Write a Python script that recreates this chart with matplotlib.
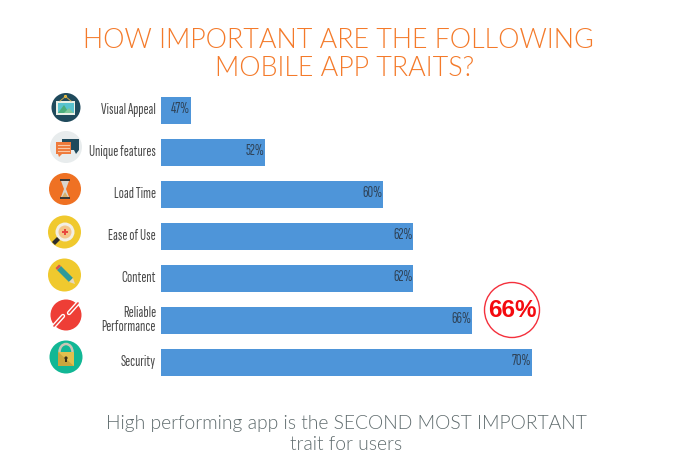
import matplotlib
matplotlib.use("Agg")
import matplotlib.pyplot as plt
from matplotlib.patches import Circle, Polygon, Rectangle, Arc
from matplotlib.transforms import ScaledTranslation

categories = ["Visual Appeal", "Unique features", "Load Time", "Ease of Use",
              "Content", "Reliable\nPerformance", "Security"]
values = [47, 52, 60, 62, 62, 66, 70]
value_labels = ["47%", "52%", "60%", "62%", "62%", "66%", "70%"]
title_line_1 = "HOW IMPORTANT ARE THE FOLLOWING"
title_line_2 = "MOBILE APP TRAITS?"
footer_lines = "High performing app is the SECOND MOST IMPORTANT\ntrait for users"
callout = "66%"

W, H = 680, 464
narrow = ["Sofia Sans Extra Condensed", "Roboto Condensed", "Roboto", "DejaVu Sans"]
fig = plt.figure(figsize=(W / 100, H / 100), dpi=100, facecolor="white")

def rect(l, t, r, b):
    return [l / W, 1 - b / H, (r - l) / W, (b - t) / H]

ax = fig.add_axes(rect(161, 90.7, 680, 384.7))
ax.barh(range(len(values)), values, height=0.643, color="#4e95d9", left=0)
ax.set_xlim(45, 45 + 519 / 14.83)
ax.set_ylim(6.512, -0.488)
ax.set_yticks(range(len(categories)), categories, family=narrow, fontsize=11,
              color="#4a4a4a", linespacing=1.0)
ax.tick_params(axis="y", length=0, pad=3.6)
up = ScaledTranslation(0, 2 / 72, fig.dpi_scale_trans)
for t in ax.get_yticklabels():
    t.set_transform(t.get_transform() + up)
ax.set_xticks([])
for s in ax.spines.values():
    s.set_visible(False)
ax.patch.set_alpha(0)
for i, (v, lab) in enumerate(zip(values, value_labels)):
    ax.annotate(lab, (v, i), xytext=(-0.5, 1.8), textcoords="offset points", ha="right",
                va="center", family=narrow, fontsize=11, color="#2f4358")

# Decorative layer in pixel coordinates: icons, titles, callout
ov = fig.add_axes([0, 0, 1, 1], zorder=3)
ov.set_xlim(0, W)
ov.set_ylim(H, 0)
ov.axis("off")
ov.patch.set_alpha(0)

ov.text(338.5, 40, title_line_1, ha="center", va="center", family="Lato", fontsize=19.4,
        color="#f47a2a", fontweight=300)
ov.text(344.5, 69, title_line_2, ha="center", va="center", family="Lato", fontsize=19.4,
        color="#f47a2a", fontweight=300)
ov.text(346, 434, footer_lines, ha="center", va="center", family="Lato", fontsize=13.85,
        color="#5f6b6d", fontweight=300, linespacing=1.3)

ov.add_patch(Circle((512, 311), 27.5, fc="white", ec="#f4303c", lw=1.0))
ov.text(512.5, 310.5, callout, ha="center", va="center", family="Liberation Sans",
        fontsize=17.5, fontweight="bold", color="#f40a0f")

def circ(x, y, r, c, **k):
    ov.add_patch(Circle((x, y), r, fc=c, ec="none", **k))

def poly(pts, c):
    ov.add_patch(Polygon(pts, closed=True, fc=c, ec="none"))

def box(x0, y0, x1, y1, c):
    ov.add_patch(Rectangle((x0, y0), x1 - x0, y1 - y0, fc=c, ec="none"))

# Visual Appeal
circ(66, 108.5, 14.5, "#1f4a5c")
box(56, 102, 75, 116, "#e9efe6")
box(57.5, 103.5, 73.5, 114, "#59c3cf")
poly([(58, 114), (64, 106), (69, 114)], "#4cae7c")
poly([(64, 114), (69, 109), (73.5, 114)], "#7fc79a")
circ(65.5, 97.5, 1.6, "#f2c53d")
ov.plot([60, 65.5, 71], [102, 97.5, 102], color="#c9a44a", lw=0.7)
# Unique features
circ(66, 148, 16, "#e8eced")
poly([(62, 140), (79, 140), (79, 151), (76, 155), (74, 151), (62, 151)], "#1f4a5c")
box(56, 143, 71, 155, "#ef7a3b")
poly([(58, 155), (62, 155), (59, 158)], "#ef7a3b")
for yy in (146, 149, 152):
    ov.plot([58, 69], [yy, yy], color="#f7c9a9", lw=0.8)
# Load Time
circ(65, 190, 16, "#ef7123")
box(60, 180, 70, 182, "#3e3a36")
box(60, 198, 70, 200, "#3e3a36")
poly([(61, 182), (69, 182), (66, 190), (69, 198), (61, 198), (64, 190)], "#d9d6cf")
poly([(62, 198), (68, 198), (65, 193)], "#d8b06a")
# Ease of Use
circ(64.5, 233, 16.5, "#f0c92e")
circ(65, 233, 9.5, "#f3efe4")
circ(65, 233, 6.5, "#f4c68a")
box(63.8, 230, 66.2, 236, "#e8483f")
box(62, 231.8, 68, 234.2, "#e8483f")
poly([(52, 243), (57, 238), (60, 241), (55, 246)], "#2c2c2c")
# Content
circ(64.5, 276, 16.5, "#f0c92e")
poly([(57, 271), (61, 267), (73, 279), (69, 283)], "#2f9a9a")
poly([(69, 283), (73, 279), (75, 285)], "#e6d9bd")
poly([(57, 271), (61, 267), (59, 265.5), (55.5, 269)], "#d9534f")
# Reliable Performance
circ(66, 316, 15.5, "#ee3e36")
for a, b in (((54, 327), (63, 317)), ((69, 314), (78, 304))):
    ov.plot([a[0], b[0]], [a[1], b[1]], color="white", lw=3.2, solid_capstyle="round")
    ov.plot([a[0], b[0]], [a[1], b[1]], color="#ee3e36", lw=1.2, solid_capstyle="round")
# Security
circ(66, 358, 16.5, "#12b795")
ov.add_patch(Arc((66, 353), 13, 16, theta1=180, theta2=360, ec="#c9c6b5", lw=1.8))
box(58, 353, 74, 367, "#e2c04e")
poly([(58, 353), (74, 367), (58, 367)], "#c9a63f")
circ(66, 359, 1.6, "#3a3018")
box(65.4, 359, 66.6, 363, "#3a3018")

fig.savefig("out.png", dpi=100, facecolor="white")
